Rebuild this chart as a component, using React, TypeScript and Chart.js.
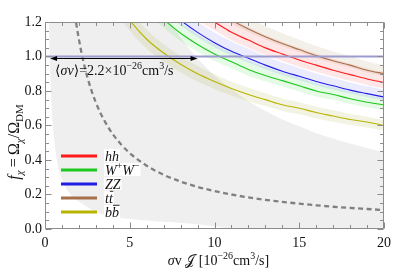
import React, { useEffect, useRef } from "react";
import { Chart, registerables } from "chart.js";
Chart.register(...registerables);

const SERIF = '"Liberation Serif", "Times New Roman", "DejaVu Serif", serif';

const xTickValues = [0, 5, 10, 15, 20];
const yTickValues = [0, 0.2, 0.4, 0.6, 0.8, 1.0, 1.2];

const channelX = [4, 5, 6, 7, 8, 9, 10, 11, 12, 13, 14, 15, 16, 17, 18, 19, 20];
const fHH = [1.9, 1.695, 1.545, 1.43, 1.34, 1.26, 1.2, 1.14, 1.095, 1.05, 1.015, 0.98, 0.95, 0.92, 0.895, 0.87, 0.85];
const fWW = [1.605, 1.435, 1.31, 1.215, 1.135, 1.07, 1.015, 0.97, 0.925, 0.89, 0.86, 0.83, 0.8, 0.78, 0.755, 0.735, 0.72];
const fZZ = [1.71, 1.53, 1.395, 1.29, 1.21, 1.14, 1.08, 1.03, 0.99, 0.95, 0.915, 0.885, 0.855, 0.83, 0.805, 0.785, 0.765];
const fTT = [2.01, 1.8, 1.64, 1.52, 1.42, 1.34, 1.27, 1.21, 1.16, 1.115, 1.075, 1.04, 1.005, 0.975, 0.95, 0.92, 0.9];
const fBB = [1.35, 1.21, 1.1, 1.02, 0.955, 0.9, 0.855, 0.815, 0.78, 0.75, 0.72, 0.7, 0.675, 0.655, 0.635, 0.62, 0.6];

// relative uncertainty of each channel band (hh, WW, ZZ, tt, bb)
const bandUpper = [0.07, 0.055, 0.055, 0.055, 0.05];
const bandLower = [0.04, 0.04, 0.025, 0.015, 0.05];

const relicX = [1.7, 1.83, 2, 2.2, 2.5, 3, 3.5, 4, 4.5, 5, 6, 7, 8, 9, 10, 11, 12, 13, 14, 15, 16, 17, 18, 19, 20];
const relicF = [1.294, 1.2, 1.1, 1.0, 0.88, 0.733, 0.629, 0.55, 0.489, 0.44, 0.367, 0.314, 0.275, 0.244, 0.22, 0.2, 0.183, 0.169, 0.157, 0.147, 0.1375, 0.129, 0.122, 0.116, 0.11];

const grayX = [0.23, 0.3, 0.4, 0.5, 0.7, 1, 1.5, 2, 3, 4, 5, 6, 7, 7.4, 8, 9, 10, 11, 12, 13, 14, 15, 16, 17, 18, 19, 20];
const grayUpper = [1.3, 1.3, 1.3, 1.3, 1.3, 1.3, 1.3, 1.3, 1.3, 1.3, 1.3, 1.3, 1.27, 1.2, 1.11, 0.99, 0.89, 0.81, 0.74, 0.685, 0.635, 0.595, 0.555, 0.525, 0.495, 0.47, 0.445];
const grayLower = [1.22, 0.94, 0.7, 0.56, 0.4, 0.29, 0.2, 0.16, 0.1, 0.072, 0.058, 0.05, 0.042, 0.04, 0.035, 0.028, 0.015, 0.004, 0, 0, 0, 0, 0, 0, 0, 0, 0];

const relicLevel = 1.0;
const arrowX = [0.3, 9.0];
const arrowF = 0.99;

type Piece = { t: string; it?: boolean; sup?: boolean; sub?: boolean; bar?: boolean };

const channels: { key: string; values: number[]; color: string; band: string; label: Piece[] }[] = [
  { key: "hh", values: fHH, color: "#ff1a1a", band: "rgba(255,60,60,0.12)", label: [{ t: "hh", it: true }] },
  { key: "WW", values: fWW, color: "#1ec81e", band: "rgba(40,220,40,0.12)", label: [{ t: "W", it: true }, { t: "+", sup: true }, { t: "W", it: true }, { t: "\u2212", sup: true }] },
  { key: "ZZ", values: fZZ, color: "#1e1ee6", band: "rgba(60,60,255,0.1)", label: [{ t: "ZZ", it: true }] },
  { key: "tt", values: fTT, color: "#a8704a", band: "rgba(160,120,70,0.12)", label: [{ t: "t", it: true }, { t: "t", it: true, bar: true }] },
  { key: "bb", values: fBB, color: "#b8b400", band: "rgba(160,160,40,0.13)", label: [{ t: "b", it: true }, { t: "b", it: true, bar: true }] },
];

function fontFor(p: Piece, size: number) {
  const s = p.sup || p.sub ? Math.round(size * 0.7) : size;
  return `${p.it ? "italic " : ""}${s}px ${SERIF}`;
}
function measureRich(ctx: CanvasRenderingContext2D, pieces: Piece[], size: number) {
  let w = 0;
  for (const p of pieces) {
    ctx.font = fontFor(p, size);
    w += ctx.measureText(p.t).width;
  }
  return w;
}
function drawRich(ctx: CanvasRenderingContext2D, pieces: Piece[], x: number, y: number, size: number, color: string) {
  let cx = x;
  ctx.fillStyle = color;
  ctx.strokeStyle = color;
  ctx.textBaseline = "alphabetic";
  ctx.textAlign = "left";
  for (const p of pieces) {
    ctx.font = fontFor(p, size);
    const dy = p.sup ? -size * 0.4 : p.sub ? size * 0.28 : 0;
    const w = ctx.measureText(p.t).width;
    ctx.fillText(p.t, cx, y + dy);
    if (p.bar) {
      ctx.lineWidth = 0.9;
      ctx.beginPath();
      ctx.moveTo(cx + 1, y - size * 0.8);
      ctx.lineTo(cx + w + 0.5, y - size * 0.8);
      ctx.stroke();
    }
    cx += w;
  }
  return cx - x;
}

const decorPlugin = {
  id: "decor",
  afterDatasetsDraw(chart: any) {
    const ctx: CanvasRenderingContext2D = chart.ctx;
    const xs = chart.scales.x;
    const ys = chart.scales.y;
    const area = chart.chartArea;
    ctx.save();

    // arrow
    const ay = Math.round(ys.getPixelForValue(arrowF)) + 0.5;
    const ax0 = xs.getPixelForValue(arrowX[0]);
    const ax1 = xs.getPixelForValue(arrowX[1]);
    ctx.strokeStyle = "#000";
    ctx.fillStyle = "#000";
    ctx.lineWidth = 1;
    ctx.beginPath();
    ctx.moveTo(ax0 + 3, ay);
    ctx.lineTo(ax1 - 3, ay);
    ctx.stroke();
    ctx.beginPath();
    ctx.moveTo(ax0, ay);
    ctx.lineTo(ax0 + 7, ay - 2.5);
    ctx.lineTo(ax0 + 7, ay + 2.5);
    ctx.closePath();
    ctx.fill();
    ctx.beginPath();
    ctx.moveTo(ax1, ay);
    ctx.lineTo(ax1 - 7, ay - 2.5);
    ctx.lineTo(ax1 - 7, ay + 2.5);
    ctx.closePath();
    ctx.fill();

    // annotation text
    drawRich(
      ctx,
      [
        { t: "\u27E8" },
        { t: "\u03C3v", it: true },
        { t: "\u27E9=2.2\u00D710" },
        { t: "\u221226", sup: true },
        { t: "cm" },
        { t: "3", sup: true },
        { t: "/s" },
      ],
      ax0 + 5,
      ay + 16,
      14,
      "#111"
    );

    // legend
    const lx0 = area.left + 16;
    const lx1 = area.left + 52;
    let ly = 156;
    channels.forEach((c) => {
      ctx.strokeStyle = c.color;
      ctx.lineWidth = 3;
      ctx.beginPath();
      ctx.moveTo(lx0, ly);
      ctx.lineTo(lx1, ly);
      ctx.stroke();
      const w = measureRich(ctx, c.label, 14);
      ctx.fillStyle = "#fff";
      ctx.fillRect(lx1 + 7, ly - 7, w + 2, 13);
      drawRich(ctx, c.label, lx1 + 8, ly + 4.5, 14, "#111");
      ly += 14;
    });

    // frame and ticks
    const L = area.left + 0.5, R = area.right - 0.5, T = area.top + 0.5, B = area.bottom - 0.5;
    ctx.strokeStyle = "#8c8c8c";
    ctx.lineWidth = 1;
    ctx.beginPath();
    ctx.rect(L, T, R - L, B - T);
    for (let v = 0; v <= 20; v++) {
      const px = Math.round(xs.getPixelForValue(v)) + 0.5;
      const len = v % 5 === 0 ? 6 : 3.5;
      ctx.moveTo(px, B);
      ctx.lineTo(px, B - len);
      ctx.moveTo(px, T);
      ctx.lineTo(px, T + len);
    }
    for (let i = 0; i <= 24; i++) {
      const py = Math.round(ys.getPixelForValue(i * 0.05)) + 0.5;
      const len = i % 4 === 0 ? 6 : 3.5;
      ctx.moveTo(L, py);
      ctx.lineTo(L + len, py);
      ctx.moveTo(R, py);
      ctx.lineTo(R - len, py);
    }
    ctx.stroke();

    // axis titles
    const xt: Piece[] = [
      { t: "\u03C3", it: true },
      { t: "v " },
      { t: "\uD835\uDCA5" },
      { t: " [10" },
      { t: "\u221226", sup: true },
      { t: "cm" },
      { t: "3", sup: true },
      { t: "/s]" },
    ];
    const xw = measureRich(ctx, xt, 14);
    drawRich(ctx, xt, (area.left + area.right) / 2 + 4 - xw / 2, 265, 14, "#111");

    const yt: Piece[] = [
      { t: "f", it: true },
      { t: "\u03C7", it: true, sub: true },
      { t: "\u2009=\u2009\u03A9" },
      { t: "\u03C7", it: true, sub: true },
      { t: "/\u03A9" },
      { t: "DM", sub: true },
    ];
    const yw = measureRich(ctx, yt, 16);
    ctx.translate(19, 142);
    ctx.rotate(-Math.PI / 2);
    drawRich(ctx, yt, -yw / 2, 0, 16, "#111");
    ctx.restore();
  },
};

export default function App() {
  const ref = useRef<HTMLCanvasElement>(null);
  useEffect(() => {
    document.body.style.margin = "0";
    const pts = (xs: number[], ys: number[]) => xs.map((x, i) => ({ x, y: ys[i] }));
    const base = { pointRadius: 0, clip: 0, cubicInterpolationMode: "monotone" as const };
    const datasets: any[] = [];
    // gray allowed region
    datasets.push({ ...base, data: pts(grayX, grayUpper), borderWidth: 0, backgroundColor: "#efefef", fill: "+1", order: 100 });
    datasets.push({ ...base, data: pts(grayX, grayLower), borderWidth: 0, fill: false, order: 100 });
    // bands
    channels.forEach((c, k) => {
      const up = c.values.map((v) => v * (1 + bandUpper[k]));
      const lo = c.values.map((v) => v * (1 - bandLower[k]));
      datasets.push({ ...base, data: pts(channelX, up), borderWidth: 0, backgroundColor: c.band, fill: "+1", order: 60 - k });
      datasets.push({ ...base, data: pts(channelX, lo), borderWidth: 0, fill: false, order: 60 - k });
    });
    // lines
    channels.forEach((c, k) => {
      datasets.push({ ...base, data: pts(channelX, c.values), borderColor: c.color, borderWidth: 1.1, fill: false, order: 20 - k });
    });
    // relic dashed
    datasets.push({ ...base, data: pts(relicX, relicF), borderColor: "#808080", borderWidth: 2.3, borderDash: [5, 3.5], fill: false, order: 5 });
    // f = 1 line
    datasets.push({ ...base, data: [{ x: 0, y: relicLevel }, { x: 20, y: relicLevel }], borderColor: "#9c9ccf", borderWidth: 2, fill: false, order: 1 });

    const chart = new Chart(ref.current!, {
      type: "line",
      data: { datasets },
      options: {
        animation: false,
        responsive: false,
        devicePixelRatio: 1,
        layout: { padding: { top: 22, right: 21, left: 0, bottom: 0 } },
        plugins: { legend: { display: false }, tooltip: { enabled: false } },
        scales: {
          x: {
            type: "linear",
            min: 0,
            max: 20,
            afterBuildTicks: (s: any) => { s.ticks = xTickValues.map((v) => ({ value: v })); },
            afterFit: (s: any) => { s.height = 44; },
            grid: { display: false, drawTicks: false },
            border: { display: false },
            ticks: { font: { family: SERIF, size: 14 }, color: "#111", padding: 6, maxRotation: 0, callback: (v: any) => String(v) },
          },
          y: {
            type: "linear",
            min: 0,
            max: 1.2,
            afterBuildTicks: (s: any) => { s.ticks = yTickValues.map((v) => ({ value: v })); },
            afterFit: (s: any) => { s.width = 45; },
            grid: { display: false, drawTicks: false },
            border: { display: false },
            ticks: { font: { family: SERIF, size: 14 }, color: "#111", padding: 3, callback: (v: any) => Number(v).toFixed(1) },
          },
        },
      },
      plugins: [decorPlugin],
    } as any);
    return () => chart.destroy();
  }, []);
  return (
    <div style={{ width: 405, height: 273 }}>
      <canvas ref={ref} width={405} height={273} />
    </div>
  );
}
